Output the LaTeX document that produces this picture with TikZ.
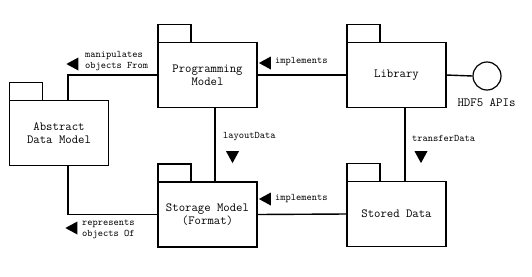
\documentclass[tikz,border=0pt]{standalone}
\usetikzlibrary{positioning, shapes.geometric, calc}

\tikzset{
  pkg/.style={draw, line width=1.4pt, outer sep=0pt, minimum width=99pt, minimum height=65pt,
    align=center, font=\ttfamily\fontsize{12.4}{13}\selectfont},
  conn/.style={line width=1.4pt},
  lbl/.style={anchor=west, inner sep=0pt, align=left, font=\ttfamily\fontsize{10}{11}\selectfont},
  tri/.style={isosceles triangle, isosceles triangle stretches, fill, inner sep=0pt,
    minimum height=12pt, minimum width=13pt}
}

\begin{document}
\begin{tikzpicture}[x=1pt, y=-1pt]
  \useasboundingbox (0,0) rectangle (532,276);
  % Packages
  \node[pkg] (adm) at (59,133) {Abstract\\Data Model};
  \node[pkg] (pm)  at (207.5,75) {Programming\\Model};
  \node[pkg] (lib) at (396.5,75) {Library};
  \node[pkg] (sm)  at (207.5,214.5) {Storage Model\\(Format)};
  \node[pkg] (sd)  at (396.5,214) {Stored Data};
  \foreach \p in {adm, pm, lib, sm, sd}{
    \draw[conn] (\p.north west) rectangle ++(33pt,18pt);
  }
  % Interface
  \node[draw, circle, line width=1.2pt, minimum size=28pt, inner sep=0pt] (api) at (487,76) {};
  \node[font=\ttfamily\fontsize{12.5}{13}\selectfont] (apitxt) at (486.5,103) {HDF5 APIs};
  % Connectors
  \draw[conn] (pm.west) -| ([xshift=9pt]adm.north);
  \draw[conn] ([xshift=9pt]adm.south) |- (sm.west);
  \draw[conn] ([xshift=7.5pt]pm.south) -- ([xshift=7.5pt]sm.north);
  \draw[conn] (lib.west) -- (pm.east);
  \draw[conn] ([xshift=8.5pt]lib.south) -- ([xshift=8.5pt]sd.north);
  \draw[conn] (sd.west) -- (sm.east);
  \draw[conn] (lib.east) -- (api.west);
  % Labels
  \node[lbl] (manip) at (85,61.5) {manipulates\\objects From};
  \node[lbl] (impl1) at (275,62) {implements};
  \node[lbl] (layout) at (223,137) {layoutData};
  \node[lbl] (transfer) at (412,138) {transferData};
  \node[lbl] (impl2) at (275,199) {implements};
  \node[lbl] (repr) at (82,229.5) {represents\\objects Of};
  \node[tri, shape border rotate=180] at (74.5,64) {};
  \node[tri, shape border rotate=180] at (267,63) {};
  \node[tri, shape border rotate=270] at (232.5,155) {};
  \node[tri, shape border rotate=270] at (421,155) {};
  \node[tri, shape border rotate=180] at (267,199) {};
  \node[tri, shape border rotate=180] at (73.5,228) {};
\end{tikzpicture}
\end{document}
